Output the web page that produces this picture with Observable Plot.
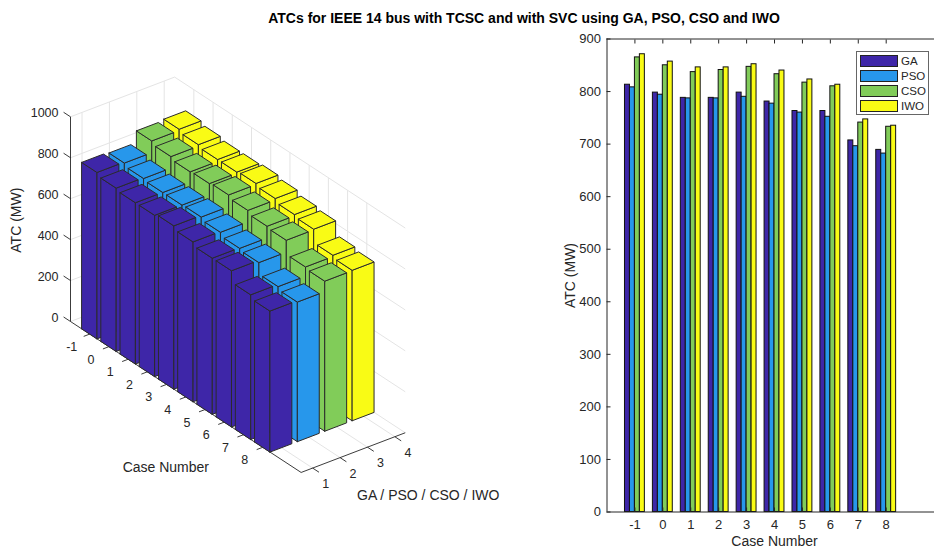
<!DOCTYPE html>
<html><head><meta charset="utf-8">
<script src="https://cdn.jsdelivr.net/npm/d3@7"></script>
<script src="https://cdn.jsdelivr.net/npm/@observablehq/plot@0.6"></script>
<style>
html,body{margin:0;padding:0;background:#fff;overflow:hidden}
#page{position:relative;width:934px;height:549px;font-family:"Liberation Sans",Arial,sans-serif;color:#262626}
#title{position:absolute;left:0;width:1048px;top:11px;text-align:center;font-weight:bold;font-size:14px;line-height:15px;color:#000}
#left,#right{position:absolute;top:0}
#left{left:0}#right{left:520px}
#legend{position:absolute;left:856px;top:51px;width:73px;height:64px;box-sizing:border-box;border:1px solid #666;background:#fff;font-size:11.5px}
#legend .row{position:absolute;left:3px;height:12px;width:68px}
#legend .sw{position:absolute;left:0;top:0;width:38px;height:12px;box-sizing:border-box;border:1.4px solid #222}
#legend .lb{position:absolute;left:41px;top:-1px;line-height:14px;color:#262626}
</style></head>
<body><div id="page">
<div id="title">ATCs for IEEE 14 bus with TCSC and with SVC using GA, PSO, CSO and IWO</div>
<div id="left"></div><div id="right"></div><div id="legend"></div>
</div>
<script>
const cases = [-1,0,1,2,3,4,5,6,7,8];
const seriesNames = ["GA","PSO","CSO","IWO"];
const seriesNumbers = [1,2,3,4];
const GA  = [813,798,788,788,798,781,763,763,707,689];
const PSO = [808,794,787,787,790,777,760,752,696,682];
const CSO = [865,850,837,841,847,833,817,810,741,733];
const IWO = [871,857,846,846,852,840,823,813,747,735];
const colors = ["#3e26a8","#2797eb","#81cc59","#f9fb15"];
const atcTicks3d = [0,200,400,600,800,1000];
const atcTicks2d = [0,100,200,300,400,500,600,700,800,900];
const allValues = [GA,PSO,CSO,IWO];

const FONT = "13px 'Liberation Sans', Arial, sans-serif";
const INK = "#262626", GRID = "#e4e4e4";

/* ---------- 3D view: orthographic projection of (case, series, ATC) ---------- */
const caseRange = [-2,10], seriesRange = [0.58,4.38], zRange = [0,1000];
function P(c,s,z){
  return {x:70+(c-caseRange[0])*19.22+(s-seriesRange[0])*27.4,
          y:321+(c-caseRange[0])*12.58-(s-seriesRange[0])*10.45-z*0.2047};
}
const seg = (a,b)=>({x1:a.x,y1:a.y,x2:b.x,y2:b.y});
const [c0,c1]=caseRange,[s0,s1]=seriesRange,[z0,z1]=zRange;

const gridSegs = [
  ...atcTicks3d.flatMap(z=>[seg(P(c0,s0,z),P(c0,s1,z)),seg(P(c0,s1,z),P(c1,s1,z))]),
  ...cases.flatMap(c=>[seg(P(c,s1,z0),P(c,s1,z1)),seg(P(c,s0,z0),P(c,s1,z0))]),
  ...seriesNumbers.flatMap(s=>[seg(P(c0,s,z0),P(c0,s,z1)),seg(P(c0,s,z0),P(c1,s,z0))])
];
const axisSegs = [seg(P(c0,s0,z0),P(c0,s0,z1)),seg(P(c0,s0,z0),P(c1,s0,z0)),seg(P(c1,s0,z0),P(c1,s1,z0))];
const tickSegs = [
  ...atcTicks3d.map(z=>seg(P(c0,s0,z),P(c0-0.36,s0,z))),
  ...cases.map(c=>seg(P(c,s0,z0),P(c,s0-0.22,z0))),
  ...seriesNumbers.map(s=>seg(P(c1,s,z0),P(c1+0.33,s,z0)))
];

const half = 0.4;
function barFaces(si){
  const s = seriesNumbers[si], out=[];
  cases.forEach((c,ci)=>{
    const v = allValues[si][ci];
    const faces = [
      [[c-half,s-half,0],[c+half,s-half,0],[c+half,s-half,v],[c-half,s-half,v]],
      [[c+half,s-half,0],[c+half,s+half,0],[c+half,s+half,v],[c+half,s-half,v]],
      [[c-half,s-half,v],[c+half,s-half,v],[c+half,s+half,v],[c-half,s+half,v]]
    ];
    faces.forEach((f,fi)=>{
      [...f,f[0]].forEach(p=>{ const q=P(...p); out.push({id:ci*10+fi,x:q.x,y:q.y}); });
    });
  });
  return out;
}

const leftPlot = Plot.plot({
  width:520,height:549,margin:0,
  x:{domain:[0,520],range:[0,520],axis:null},
  y:{domain:[0,549],range:[0,549],axis:null},
  style:{font:FONT,background:"transparent"},
  marks:[
    Plot.link(gridSegs,{x1:"x1",y1:"y1",x2:"x2",y2:"y2",stroke:GRID,strokeWidth:1}),
    Plot.link(axisSegs,{x1:"x1",y1:"y1",x2:"x2",y2:"y2",stroke:INK,strokeWidth:0.9}),
    Plot.link(tickSegs,{x1:"x1",y1:"y1",x2:"x2",y2:"y2",stroke:INK,strokeWidth:0.9}),
    ...[3,2,1,0].map(si=>Plot.line(barFaces(si),{x:"x",y:"y",z:"id",dx:-1,fill:colors[si],stroke:"#2b2b2b",strokeWidth:1,strokeLinejoin:"round"})),
    Plot.text(atcTicks3d,{x:z=>P(c0,s0,z).x,y:z=>P(c0,s0,z).y,text:d=>String(d),textAnchor:"end",dx:-12,dy:-4,fill:INK,fontSize:12.5}),
    Plot.text(cases,{x:c=>P(c,s0,z0).x,y:c=>P(c,s0,z0).y,text:d=>String(d),dx:-18,dy:13,fill:INK,fontSize:12.5}),
    Plot.text(seriesNumbers,{x:s=>P(c1,s,z0).x,y:s=>P(c1,s,z0).y,text:d=>String(d),dx:13,dy:16,fill:INK,fontSize:12.5}),
    Plot.text(["ATC (MW)"],{x:()=>P(c0,s0,500).x,y:()=>P(c0,s0,500).y,text:d=>d,rotate:-90,dx:-54,dy:1,fill:INK,fontSize:14}),
    Plot.text(["Case Number"],{x:()=>P(4,s0,0).x,y:()=>P(4,s0,0).y,text:d=>d,dx:-20,dy:71,fill:INK,fontSize:14}),
    Plot.text(["GA / PSO / CSO / IWO"],{x:()=>P(c1,(s0+s1)/2,0).x,y:()=>P(c1,(s0+s1)/2,0).y,text:d=>d,dx:75,dy:43,fill:INK,fontSize:14})
  ]
});
document.getElementById("left").append(leftPlot);

/* ---------- 2D grouped bars ---------- */
const barW = 0.178;
const rows = si => cases.map((c,ci)=>({c,v:allValues[si][ci],x1:c+(si-1.5)*barW-barW/2,x2:c+(si-1.5)*barW+barW/2}));
const xEnd = 9.73;
const rightPlot = Plot.plot({
  width:414,height:549,marginLeft:86.5,marginRight:0,marginTop:38.5,marginBottom:37.5,
  x:{domain:[-2,xEnd]},
  y:{domain:[0,900]},
  style:{font:FONT,background:"transparent"},
  marks:[
    ...[0,1,2,3].map(si=>Plot.rectY(rows(si),{x1:"x1",x2:"x2",y:"v",fill:colors[si],stroke:"#111",strokeWidth:1})),
    Plot.ruleY([0,900],{stroke:INK,strokeWidth:1}),
    Plot.ruleX([-2],{stroke:INK,strokeWidth:1}),
    Plot.axisX({anchor:"bottom",ticks:cases,tickFormat:String,tickSize:-4,tickPadding:12,label:null,stroke:INK,color:INK}),
    Plot.axisX({anchor:"top",ticks:cases,tickFormat:()=>"",tickSize:-4,label:null,stroke:INK}),
    Plot.axisY({anchor:"left",ticks:atcTicks2d,tickFormat:String,tickSize:-4,tickPadding:10,label:null,stroke:INK,color:INK}),
    Plot.text(["Case Number"],{x:()=>4,y:()=>0,text:d=>d,dy:29.5,fill:INK,fontSize:14}),
    Plot.text(["ATC (MW)"],{x:()=>-2,y:()=>450,text:d=>d,rotate:-90,dx:-36.5,fill:INK,fontSize:14})
  ]
});
document.getElementById("right").append(rightPlot);

/* ---------- legend ---------- */
const legend = d3.select("#legend");
seriesNames.forEach((n,i)=>{
  const r = legend.append("div").attr("class","row").style("top",(2.5+i*15)+"px");
  r.append("div").attr("class","sw").style("background",colors[i]);
  r.append("div").attr("class","lb").text(n);
});
</script>
</body></html>
